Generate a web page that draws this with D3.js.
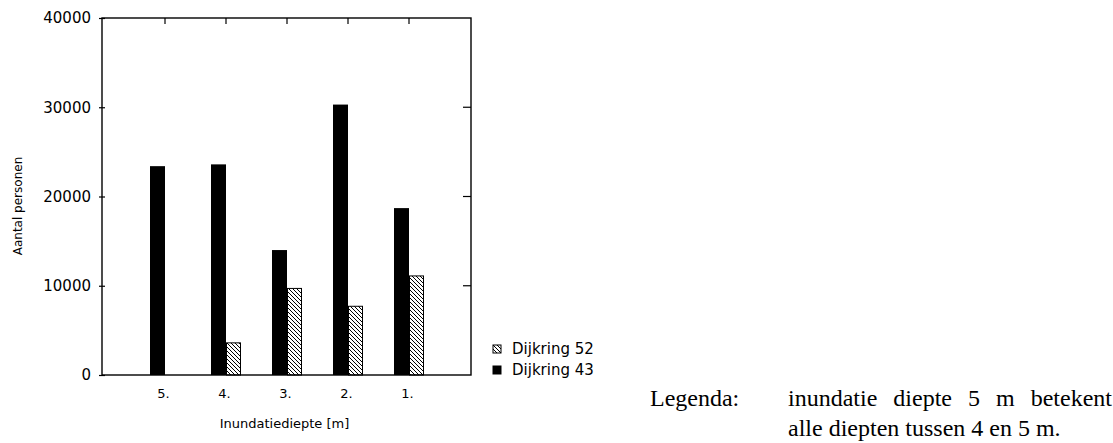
<!DOCTYPE html>
<html>
<head>
<meta charset="utf-8">
<script src="https://cdn.jsdelivr.net/npm/d3@7"></script>
<style>
  body { margin: 0; background: #fff; }
  svg { display: block; }
</style>
</head>
<body>
<div id="chart"></div>
<script>
// data
var categories = ["5.", "4.", "3.", "2.", "1."];
var dijkring43 = [23400, 23600, 14000, 30300, 18700];
var dijkring52 = [0, 3600, 9700, 7700, 11100];
var yTicks = [0, 10000, 20000, 30000, 40000];
var legendNames = ["Dijkring 52", "Dijkring 43"];
var noteLines = ["inundatie diepte 5 m betekent", "alle diepten tussen 4 en 5 m."];

var W = 1113, H = 443;
var margin = {top: 18, right: 642, bottom: 68, left: 102},
    width = W - margin.left - margin.right,
    height = H - margin.top - margin.bottom;

var svg = d3.select("#chart").append("svg")
    .attr("width", W)
    .attr("height", H);

var defs = svg.append("defs");
defs.append("pattern")
    .attr("id", "hatch")
    .attr("patternUnits", "userSpaceOnUse")
    .attr("width", 4).attr("height", 4)
  .append("path")
    .attr("d", "M-1,-1 L5,5 M-1,3 L1,5 M3,-1 L5,1")
    .attr("stroke", "#000")
    .attr("stroke-width", 1);

var g = svg.append("g")
    .attr("transform", "translate(" + margin.left + "," + margin.top + ")");

// category centres sit on the ticks, black bar left of it, hatched bar right
var x = d3.scalePoint()
    .domain(categories)
    .range([63, 307]);

var y = d3.scaleLinear()
    .domain([0, 40000])
    .range([height, 0]);

var barW = 15;
var font = "'DejaVu Sans', Verdana, sans-serif";

// frame
g.append("rect")
    .attr("width", width).attr("height", height)
    .attr("fill", "none").attr("stroke", "#000").attr("stroke-width", 1.4);

// left axis
var yAxis = g.append("g")
    .call(d3.axisLeft(y).tickValues(yTicks).tickSize(3).tickPadding(9).tickFormat(d3.format("d")));
yAxis.select(".domain").remove();
yAxis.selectAll("line").attr("x2", 3).attr("x1", -3).attr("stroke-width", 1.2);
yAxis.selectAll("text").attr("font-family", font).attr("font-size", 15).attr("fill", "#000")
    .attr("x", -11);

// right ticks pointing inward
g.selectAll(".rtick").data(yTicks.slice(1, 4)).enter().append("line")
    .attr("x1", width - 8).attr("x2", width)
    .attr("y1", d => y(d)).attr("y2", d => y(d))
    .attr("stroke", "#000").attr("stroke-width", 1.2);

// top ticks
g.selectAll(".ttick").data(categories).enter().append("line")
    .attr("x1", d => x(d)).attr("x2", d => x(d))
    .attr("y1", 0).attr("y2", 6)
    .attr("stroke", "#000").attr("stroke-width", 1.2);

// bottom category labels
var xAxis = g.append("g")
    .attr("transform", "translate(0," + height + ")")
    .call(d3.axisBottom(x).tickSize(0).tickPadding(14));
xAxis.select(".domain").remove();
xAxis.selectAll("text").attr("font-family", font).attr("font-size", 13).attr("fill", "#000")
    .attr("dx", -2);

// bars
g.selectAll(".b43").data(dijkring43).enter().append("rect")
    .attr("x", (d, i) => x(categories[i]) - barW)
    .attr("y", d => y(d))
    .attr("width", barW)
    .attr("height", d => height - y(d))
    .attr("fill", "#000");

g.selectAll(".b52").data(dijkring52).enter().append("rect")
    .attr("x", (d, i) => x(categories[i]) + 0.5)
    .attr("y", d => y(d))
    .attr("width", barW - 1)
    .attr("height", d => height - y(d))
    .attr("fill", d => d > 0 ? "url(#hatch)" : "none")
    .attr("stroke", d => d > 0 ? "#000" : "none")
    .attr("stroke-width", 1);

// axis titles
g.append("text")
    .attr("transform", "translate(-80," + (206 - margin.top) + ") rotate(-90)")
    .attr("text-anchor", "middle")
    .attr("font-family", font).attr("font-size", 12)
    .text("Aantal personen");

g.append("text")
    .attr("x", width / 2 - 2).attr("y", height + 53)
    .attr("text-anchor", "middle")
    .attr("font-family", font).attr("font-size", 13)
    .text("Inundatiediepte [m]");

// legend
var leg = svg.append("g").attr("transform", "translate(493,345)");
legendNames.forEach(function(name, i) {
  var row = leg.append("g").attr("transform", "translate(0," + (i * 21) + ")");
  row.append("rect")
      .attr("width", 8).attr("height", 8)
      .attr("fill", i === 0 ? "url(#hatch)" : "#000")
      .attr("stroke", "#000").attr("stroke-width", 1);
  row.append("text")
      .attr("x", 19).attr("y", 9)
      .attr("font-family", font).attr("font-size", 15)
      .text(name);
});

// note at the right
var serif = "'Liberation Serif', 'Times New Roman', serif";
svg.append("text")
    .attr("x", 650).attr("y", 406)
    .attr("font-family", serif).attr("font-size", 24)
    .text("Legenda:");

svg.selectAll(".note").data(noteLines).enter().append("text")
    .attr("class", "note")
    .attr("x", 788).attr("y", (d, i) => 406 + i * 30)
    .attr("font-family", serif).attr("font-size", 24)
    .text(d => d);
// first line is justified up to the edge
var first = svg.selectAll(".note").filter((d, i) => i === 0);
var nat = first.node().getComputedTextLength();
first.attr("word-spacing", Math.max(0, (W - 1 - 788 - nat) / 4));
</script>
</body>
</html>
